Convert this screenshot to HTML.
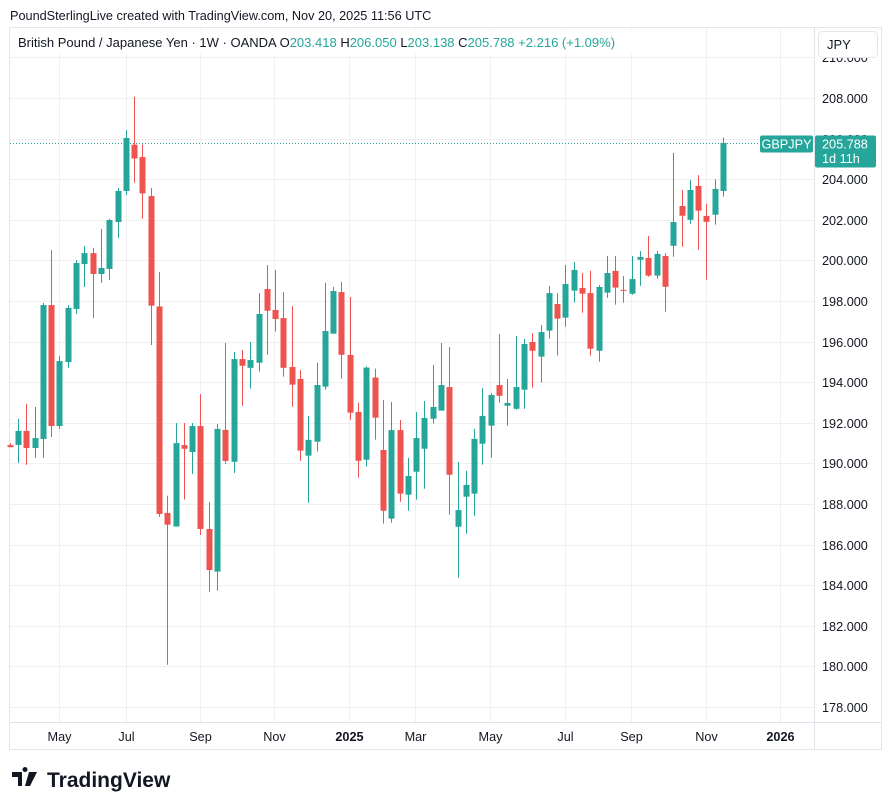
<!DOCTYPE html>
<html><head><meta charset="utf-8">
<style>
body{margin:0;background:#fff;font-family:"Liberation Sans",sans-serif;}
#wrap{position:relative;width:892px;height:810px;overflow:hidden;background:#fff;}
svg text{font-family:"Liberation Sans",sans-serif;}
</style></head>
<body>
<div id="wrap">
<svg id="chart" width="892" height="810">
  <text x="10" y="20" font-size="12.7" fill="#131722">PoundSterlingLive created with TradingView.com, Nov 20, 2025 11:56 UTC</text>
  <rect x="9.5" y="27.5" width="872" height="722" fill="#fff" stroke="#e6e6e6"/>
  <g id="grid"></g>
  <g id="candles"></g>
  <line x1="814.5" y1="28" x2="814.5" y2="749" stroke="#e0e3eb"/>
  <line x1="10" y1="722.5" x2="882" y2="722.5" stroke="#e0e3eb"/>
  <g id="yaxis"></g>
  <g id="xaxis"></g>
  <rect x="10" y="30" width="640" height="24" fill="#fff" opacity="0.9"/>
  <text x="18" y="47" font-size="13" fill="#131722">British Pound / Japanese Yen · 1W · OANDA  O<tspan fill="#26a69a">203.418</tspan> H<tspan fill="#26a69a">206.050</tspan> L<tspan fill="#26a69a">203.138</tspan> C<tspan fill="#26a69a">205.788</tspan> <tspan fill="#26a69a">+2.216 (+1.09%)</tspan></text>
  <rect x="818.5" y="31.5" width="59" height="26" rx="4" fill="#fff" stroke="#e6e6e6"/>
  <text x="827" y="49" font-size="13" fill="#131722">JPY</text>
  <g id="lastprice"></g>
  <g transform="translate(12,770)">
    <path d="M0 2h10v14h-4v-9h-6z M13 2a2.5 2.5 0 1 1 0.01 0z M17 2h8l-7 14h-5z" fill="#131722"/>
  </g>
  <text x="47" y="787" font-size="21" font-weight="bold" fill="#131722">TradingView</text>
</svg>
</div>
<script>
const opens  =[190.9,190.91,191.6,190.76,191.2,197.8,191.84,194.99,197.61,199.82,200.36,199.33,199.58,201.89,203.42,205.7,205.09,203.17,197.73,187.56,186.89,190.9,190.56,191.84,186.77,184.67,191.65,190.08,195.14,194.71,194.96,198.59,197.56,197.16,194.75,194.16,190.38,191.07,193.78,196.39,198.44,195.34,192.53,190.18,194.23,190.66,187.28,191.64,188.46,189.59,190.72,192.2,192.6,193.76,186.88,188.36,188.51,190.97,191.86,193.86,192.84,192.69,193.63,195.98,195.26,196.54,197.85,197.18,198.51,198.64,198.39,195.55,198.41,199.48,198.55,198.36,200.03,200.12,199.25,200.22,200.72,202.68,202.0,203.67,202.19,202.25,203.418];
const highs  =[191.0,192.19,192.93,192.78,197.9,200.51,195.29,197.8,200.02,200.71,200.61,201.55,202.04,203.57,206.42,208.06,205.7,203.57,199.43,188.41,191.99,191.99,191.99,193.42,188.1,191.94,195.93,195.49,195.59,195.98,198.39,199.77,199.53,198.44,197.75,194.6,192.34,194.95,198.89,198.69,198.94,198.2,192.98,194.77,194.67,193.12,193.02,192.14,190.27,192.53,193.07,194.85,195.93,195.73,190.07,189.63,191.7,193.71,193.47,196.37,194.16,196.28,196.13,196.42,196.82,198.74,198.39,199.77,199.92,199.38,199.48,198.79,200.22,200.22,199.23,200.22,200.46,201.2,200.46,200.36,205.29,203.47,203.96,204.2,202.78,204.0,206.05];
const lows   =[190.8,190.02,189.93,190.27,190.27,191.3,191.7,194.7,197.36,198.69,197.16,198.89,199.03,201.1,203.22,203.83,202.05,195.83,187.36,180.08,186.89,188.22,189.48,186.47,183.67,183.73,189.97,189.53,192.84,193.68,194.52,195.35,196.49,194.27,192.79,190.13,188.06,190.58,193.63,196.39,194.17,192.15,189.3,189.84,191.17,187.03,187.08,188.11,187.67,188.21,188.75,191.96,192.6,187.47,184.37,186.54,187.42,189.94,190.28,192.99,191.86,192.64,192.69,193.73,193.98,196.14,195.31,196.73,197.92,197.42,195.31,195.01,198.16,197.82,197.92,198.31,198.75,199.2,199.1,197.47,200.18,200.67,201.8,200.53,199.05,201.76,203.138];
const closes =[190.8,191.6,190.76,191.25,197.8,191.84,195.04,197.66,199.87,200.36,199.33,199.63,201.99,203.42,206.03,205.02,203.3,197.77,187.51,186.98,191.0,190.72,191.84,186.77,184.75,191.7,190.12,195.14,194.81,195.09,197.36,197.52,197.11,194.71,193.88,190.63,191.16,193.86,196.52,198.49,195.35,192.5,190.13,194.72,192.25,187.67,191.64,188.51,189.38,191.25,192.24,192.78,193.86,189.44,187.7,188.94,191.21,192.34,193.37,193.33,192.98,193.76,195.88,195.55,196.47,198.39,197.13,198.84,199.53,198.36,195.65,198.69,199.38,198.66,198.5,199.08,200.17,199.25,200.32,198.7,201.89,202.2,203.47,202.45,201.9,203.52,205.788];
const yTicks =[178,180,182,184,186,188,190,192,194,196,198,200,202,204,206,208,210];
const xLabels=["May","Jul","Sep","Nov","2025","Mar","May","Jul","Sep","Nov","2026"];
const xLabelIdx=[5.9,14.0,22.9,31.9,40.9,48.9,57.9,66.9,74.9,83.9,92.9];
const lastPrice=205.788;

const NS="http://www.w3.org/2000/svg";
function y(v){return 98+(208-v)*20.3;}
function x(i){return 723-(86-i)*8.294;}
function mk(tag,attrs,parent){const e=document.createElementNS(NS,tag);for(const k in attrs)e.setAttribute(k,attrs[k]);parent.appendChild(e);return e;}
const grid=document.getElementById('grid'),cg=document.getElementById('candles'),ya=document.getElementById('yaxis'),xa=document.getElementById('xaxis');
yTicks.forEach(t=>{
  const yy=Math.round(y(t))+0.5;
  if(yy<28||yy>722)return;
  const l=mk('line',{x1:10,x2:814,y1:yy,y2:yy,stroke:'#f0f0f3'},grid);
  
  
  const tx=mk('text',{x:822,y:yy+4.5,'font-size':12.7,fill:'#131722'},ya);
  tx.textContent=t.toFixed(3);
  
  
});
xLabels.forEach((lab,k)=>{
  const xx=Math.round(x(xLabelIdx[k]))+0.5;
  if(xx<814){
    const l=mk('line',{x1:xx,x2:xx,y1:28,y2:722,stroke:'#f0f0f3'},grid);
    
    
  }
  const bold=/^\d/.test(lab);
  const tx=mk('text',{x:xx,y:741,'font-size':12.7,fill:'#131722','text-anchor':'middle','font-weight':bold?'bold':'normal'},xa);
  tx.textContent=lab;
  
  
});
const ly=Math.round(y(lastPrice))+0.5;
const dl=mk('line',{x1:10,x2:760,y1:ly,y2:ly,stroke:'#26a69a','stroke-dasharray':'1 2'},cg);


for(let i=0;i<opens.length;i++){
  const up=closes[i]>=opens[i];
  const col=up?'#26a69a':'#ef5350';
  const cx=Math.round(x(i));
  if(cx<10)continue;
  const g=mk('g',{},cg);
  
  
  mk('rect',{x:cx,y:y(highs[i]),width:1,height:Math.max(1,y(lows[i])-y(highs[i])),fill:col},g);
  const top=y(Math.max(opens[i],closes[i])),bot=y(Math.min(opens[i],closes[i]));
  mk('rect',{x:cx-2.5,y:top,width:6,height:Math.max(1,bot-top),fill:col},g);
}
const lp=document.getElementById('lastprice');
mk('rect',{x:760,y:ly-8,width:53,height:17,rx:2,fill:'#26a69a'},lp);
const t1=mk('text',{x:786.5,y:ly+5,'font-size':12.7,fill:'#fff','text-anchor':'middle'},lp);t1.textContent='GBPJPY';
mk('rect',{x:815,y:ly-8,width:61,height:32,rx:2,fill:'#26a69a'},lp);
const t2=mk('text',{x:822,y:ly+5,'font-size':12.7,fill:'#fff'},lp);t2.textContent=lastPrice.toFixed(3);
const t3=mk('text',{x:822,y:ly+19.5,'font-size':12.7,fill:'#fff'},lp);t3.textContent='1d 11h';
</script>
</body></html>
